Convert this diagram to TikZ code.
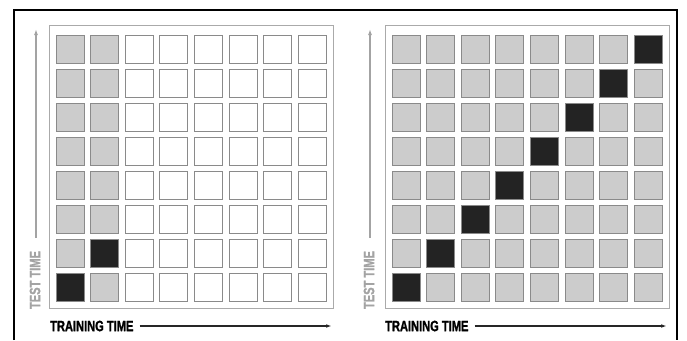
\documentclass[tikz,border=0pt]{standalone}
\usepackage{fontspec}
\newfontfamily\axisfont{Liberation Sans Bold}[FakeStretch=0.74, FakeBold=1.2]
\usetikzlibrary{arrows.meta, positioning}
\definecolor{cellgray}{HTML}{CCCCCC}
\definecolor{celldark}{HTML}{232323}
\definecolor{celledge}{HTML}{8A8A8A}
\definecolor{framegray}{HTML}{AAAAAA}
\definecolor{axisgray}{HTML}{A3A3A3}

\begin{document}
\begin{tikzpicture}[x=1pt, y=-1pt,
  cell/.style={rectangle, draw=celledge, line width=0.8pt, minimum width=28pt, minimum height=28pt, inner sep=0pt, anchor=north west},
  gridframe/.style={rectangle, draw=framegray, line width=0.8pt, minimum width=284pt, minimum height=283pt, inner sep=0pt, anchor=north west},
  axislabel/.style={font=\axisfont\fontsize{15}{15}\selectfont, inner sep=3pt},
  testarr/.style={draw=axisgray, line width=1.3pt, -{Latex[length=6pt, width=4pt]}},
  trainarr/.style={draw=black!85, line width=1.4pt, -{Latex[length=7pt, width=3.5pt]}, shorten <=3pt}
]
\useasboundingbox (0,0) rectangle (687,340);
% outer border, open at the bottom
\draw[line width=1.2pt] (14,340) -- (14,10) -- (677,10) -- (677,340);

% left panel
\node[gridframe] (lgrid) at (49,25) {};
\foreach \r in {0,...,7}
  \foreach \c in {0,...,7} {
    \pgfmathtruncatemacro{\d}{\r+\c}
    \ifnum\c<2 \def\cellfill{cellgray}\else\def\cellfill{white}\fi
    \ifnum\r>5 \ifnum\d=7 \def\cellfill{celldark}\fi\fi
    \node[cell, fill=\cellfill] (L\r\c) at ({55.5+34.6*\c},{34.5+34.1*\r}) {};
  }
\coordinate (ltail) at (36,238);
\coordinate (lhead) at (36,29);
\draw[testarr] (ltail) -- (lhead);
\node[axislabel, rotate=90, text=axisgray] (ltest) at (35,280) {TEST TIME};
\node[axislabel, anchor=west] (ltrain) at (47,326) {TRAINING TIME};
\coordinate (lend) at (333,326);
\draw[trainarr] (ltrain) -- (lend);

% right panel
\node[gridframe] (rgrid) at (385,25) {};
\foreach \r in {0,...,7}
  \foreach \c in {0,...,7} {
    \pgfmathtruncatemacro{\d}{\r+\c}
    \ifnum\d=7 \def\cellfill{celldark}\else\def\cellfill{cellgray}\fi
    \node[cell, fill=\cellfill] (R\r\c) at ({391.5+34.6*\c},{34.5+34.1*\r}) {};
  }
\coordinate (rtail) at (370,238);
\coordinate (rhead) at (370,29);
\draw[testarr] (rtail) -- (rhead);
\node[axislabel, rotate=90, text=axisgray] (rtest) at (369,280) {TEST TIME};
\node[axislabel, anchor=west] (rtrain) at (382,326) {TRAINING TIME};
\coordinate (rend) at (668,326);
\draw[trainarr] (rtrain) -- (rend);
\end{tikzpicture}
\end{document}
